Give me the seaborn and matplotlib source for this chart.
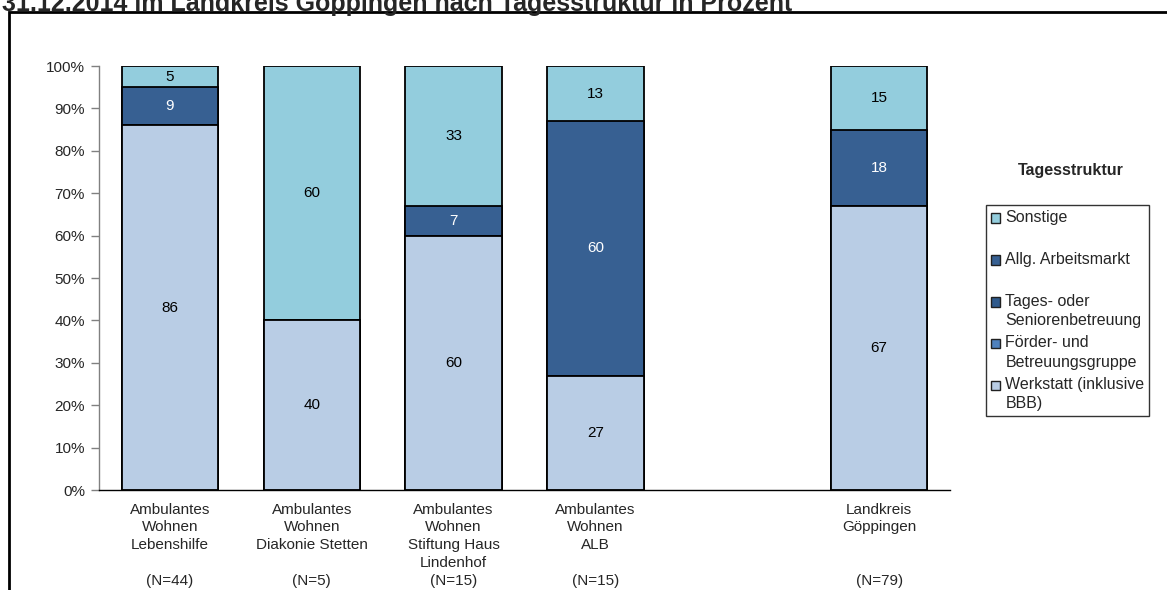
import matplotlib
matplotlib.use("Agg")
import matplotlib.pyplot as plt
import seaborn as sns
import pandas as pd
from matplotlib.patches import Patch, Rectangle
from matplotlib.legend_handler import HandlerPatch

sns.set_theme(style="white")
plt.rcParams['font.family'] = ['Liberation Sans', 'DejaVu Sans']

# data
categories = ["Ambulantes\nWohnen\nLebenshilfe",
              "Ambulantes\nWohnen\nDiakonie Stetten",
              "Ambulantes\nWohnen\nStiftung Haus\nLindenhof",
              "Ambulantes\nWohnen\nALB",
              "Landkreis\nGöppingen"]
n_values = [44, 5, 15, 15, 79]
werkstatt = [86, 40, 60, 27, 67]
foerder = [0, 0, 0, 0, 0]
tages = [0, 0, 0, 0, 0]
allg = [9, 0, 7, 60, 18]
sonstige = [5, 60, 33, 13, 15]

series_names = ["Werkstatt (inklusive\nBBB)", "Förder- und\nBetreuungsgruppe",
                "Tages- oder\nSeniorenbetreuung", "Allg. Arbeitsmarkt", "Sonstige"]
series_vals = [werkstatt, foerder, tages, allg, sonstige]
series_colors = ["#B9CDE5", "#4F81BD", "#2F5A8C", "#376092", "#93CDDD"]
text_colors = ["black", "white", "white", "white", "black"]

# empty slot between ALB and Landkreis
order = categories[:4] + ["gap"] + categories[4:]

df = pd.DataFrame({"cat": categories})
cum = [0] * len(categories)
cums = []
for vals in series_vals:
    cum = [c + v for c, v in zip(cum, vals)]
    cums.append(cum)

fig = plt.figure(figsize=(11.67, 5.9), dpi=100)
ax = fig.add_axes([99 / 1167, 1 - 490 / 590, 851 / 1167, 424 / 590])

# stacked bars: draw cumulative totals from top layer down
for i in range(len(series_vals) - 1, -1, -1):
    df["h"] = cums[i]
    sns.barplot(data=df, x="cat", y="h", order=order, color=series_colors[i],
                saturation=1, width=0.68, edgecolor="black", linewidth=1.3, ax=ax)

# segment labels
for i, vals in enumerate(series_vals):
    for j, v in enumerate(vals):
        if v > 0:
            x = order.index(categories[j])
            y = cums[i][j] - v / 2
            ax.text(x, y, str(v), ha="center", va="center", fontsize=11,
                    color=text_colors[i])

ax.set_xlim(-0.5, 5.5)
ax.set_ylim(0, 100)
ax.set_yticks(range(0, 101, 10))
ax.set_yticklabels([f"{t}%" for t in range(0, 101, 10)], fontsize=11)

ticklabels = []
for c in order:
    if c == "gap":
        ticklabels.append("")
    else:
        j = categories.index(c)
        lines = c.split("\n")
        lines += [""] * (4 - len(lines))
        ticklabels.append("\n".join(lines + [f"(N={n_values[j]})"]))
ax.set_xticks(range(len(order)))
ax.set_xticklabels(ticklabels, fontsize=11, linespacing=1.35, va="top")
ax.tick_params(axis="x", length=0, pad=9)
ax.tick_params(axis="y", length=6, width=1, color="#808080", left=True, pad=4)
ax.set_xlabel("")
ax.set_ylabel("")

sns.despine(ax=ax)
ax.spines["left"].set_color("#808080")
ax.spines["bottom"].set_color("black")
ax.spines["left"].set_linewidth(1)
ax.spines["bottom"].set_linewidth(1)


# legend: square handle next to the first line of each label
def top_square(legend, orig_handle, xdescent, ydescent, width, height, fontsize):
    s = 0.6 * fontsize
    return Rectangle((-xdescent, -ydescent + height - s + 0.02 * fontsize), s, s)


handles = [Patch(facecolor=series_colors[i], edgecolor="#202020", linewidth=1,
                 label=series_names[i] if "\n" in series_names[i] else series_names[i] + "\n ")
           for i in range(len(series_names) - 1, -1, -1)]
leg = ax.legend(handles=handles, loc="upper left",
                bbox_to_anchor=(986 / 1167, 1 - 205 / 590), bbox_transform=fig.transFigure,
                borderaxespad=0, fontsize=11.5, frameon=True, fancybox=False,
                handlelength=0.62, handleheight=2.4, handletextpad=0.3,
                labelspacing=0.48, borderpad=0.3,
                handler_map={Patch: HandlerPatch(patch_func=top_square)})
for t in leg.get_texts():
    t.set_linespacing(1.35)
leg.get_frame().set_edgecolor("black")
leg.get_frame().set_linewidth(1)
fig.text(1071 / 1167, 1 - 170 / 590, "Tagesstruktur", ha="center", va="center",
         fontsize=11.5, fontweight="bold")

# title (cut at the top) and frame
fig.text(2 / 1167, 1 - 11 / 590, "31.12.2014 im Landkreis Göppingen nach Tagesstruktur in Prozent",
         ha="left", va="baseline", fontsize=18, fontweight="bold")
fig.patches.append(Rectangle((9 / 1167, -0.2), 1.2, 1.2 - 12 / 590, transform=fig.transFigure,
                             fill=False, edgecolor="black", linewidth=2))

fig.savefig("out.png", dpi=100)
